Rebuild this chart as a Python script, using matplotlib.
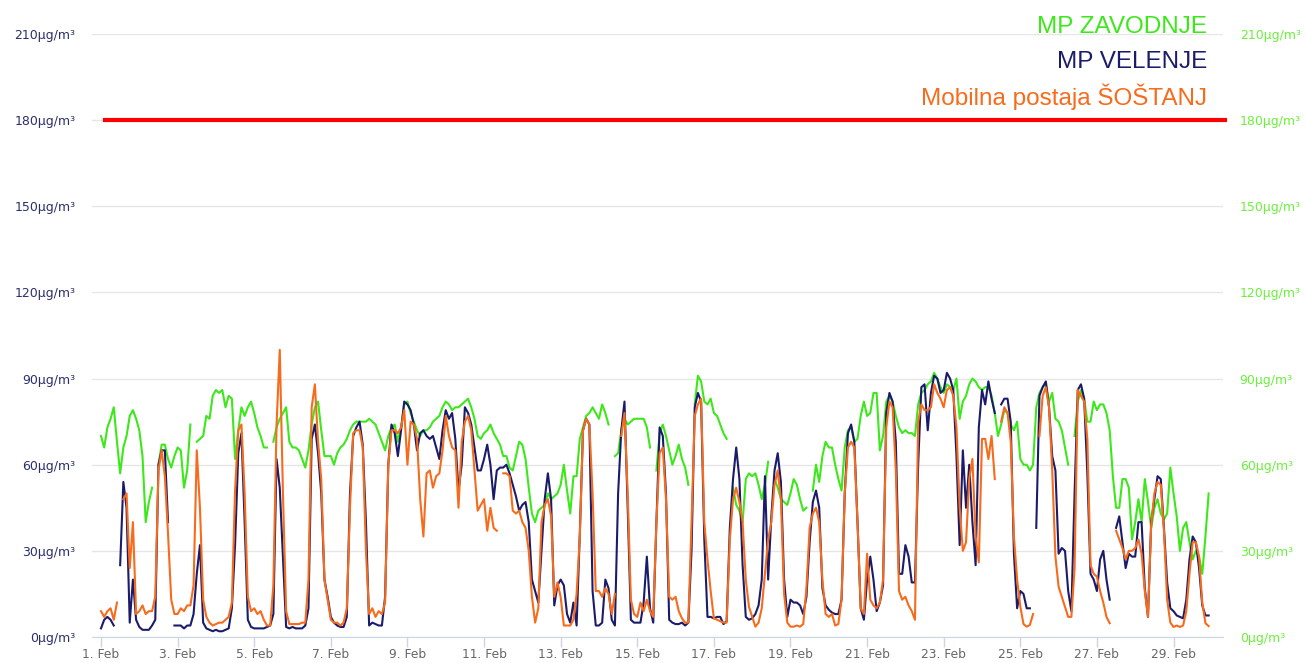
import matplotlib
matplotlib.use("Agg")
import matplotlib.pyplot as plt
from matplotlib import font_manager
import numpy as np

nan = float("nan")

# values every 2 hours, one row per day (1. Feb ... 29. Feb), µg/m³
zavodnje = [
    70, 66, 73, 76, 80, 68, 57, 66, 70, 77, 79, 76,
    72, 63, 40, 47, 52, nan, 60, 67, 67, 62, 59, 63,
    66, 65, 52, 58, 74, nan, 68, 69, 70, 77, 76, 84,
    86, 85, 86, 80, 84, 83, 62, 72, 80, 77, 80, 82,
    78, 73, 70, 66, 66, nan, 68, 73, 76, 78, 80, 68,
    66, 66, 65, 62, 59, 65, 74, 80, 82, 72, 63, 63,
    63, 60, 64, 66, 67, 69, 72, 74, 75, 75, 75, 75,
    76, 75, 74, 71, 68, 65, 70, 73, 74, 68, 73, 81,
    82, 78, 75, 72, 70, 72, 72, 73, 75, 76, 77, 80,
    82, 81, 79, 80, 80, 81, 82, 83, 80, 76, 70, 69,
    71, 72, 74, 71, 69, 67, 63, 63, 59, 58, 63, 68,
    67, 62, 52, 43, 40, 44, 45, 46, 50, 48, 49, 50,
    53, 60, 51, 43, 56, 56, 69, 73, 77, 78, 80, 78,
    76, 81, 78, 74, nan, 63, 64, 72, 76, 74, 75, 76,
    76, 76, 76, 73, 66, nan, 58, 71, 74, 70, 65, 60,
    63, 67, 62, 59, 53, nan, 81, 91, 89, 82, 81, 83,
    78, 77, 74, 71, 69, nan, 52, 46, 44, 40, 55, 57,
    56, 57, 53, 48, 53, 61, nan, 55, 52, 48, 47, 46,
    50, 55, 53, 48, 44, 45, nan, 51, 60, 54, 63, 68,
    66, 66, 60, 55, 51, 66, 72, 73, 68, 69, 77, 82,
    77, 78, 85, 85, 65, 70, 82, 84, 82, 77, 73, 71,
    72, 71, 71, 70, 81, 85, 86, 88, 89, 92, 90, 87,
    85, 88, 87, 86, 90, 76, 82, 84, 88, 90, 89, 87,
    86, 87, 87, 84, 78, 70, 74, 79, 78, 74, 72, 75,
    62, 60, 60, 58, 60, 80, 85, 87, 88, 82, 85, 76,
    75, 72, 66, 60, nan, 70, 82, 86, 83, 75, 75, 82,
    79, 81, 81, 78, 72, 56, 45, 45, 55, 55, 52, 34,
    40, 48, 40, 55, 47, 38, 45, 48, 43, 41, 43, 59,
    50, 42, 30, 38, 40, 33, 27, 30, 28, 22, 35, 50,
]

velenje = [
    3, 6, 7, 6, 4, nan, 25, 54, 45, 5, 20, 6,
    3.5, 2.5, 2.5, 2.5, 4, 6, 60, 65, 65, 40, nan, 4,
    4, 4, 3, 4, 4, 8, 22, 32, 5, 3, 2.5, 2,
    2.5, 2, 2, 2.5, 3, 10, 32, 64, 71, 40, 6, 3.5,
    3, 3, 3, 3, 3.5, 4, 8, 62, 52, 28, 3.5, 3,
    3.5, 3, 3, 3, 4, 10, 69, 74, 64, 50, 20, 14,
    7, 5, 4, 3.5, 3.5, 7, 50, 70, 73, 75, 67, 40,
    4, 5, 4.5, 4, 4, 14, 60, 74, 71, 63, 72, 82,
    81, 79, 74, 65, 71, 72, 70, 69, 70, 66, 62, 72,
    79, 76, 78, 69, 51, 60, 80, 78, 74, 66, 58, 58,
    62, 67, 60, 48, 58, 59, 59, 60, 57, 53, 49, 44,
    46, 47, 40, 20, 16, 12, 30, 48, 57, 48, 11, 18,
    20, 18, 8, 5, 12, 4, 36, 72, 76, 74, 16, 4,
    4, 5, 20, 17, 6, 4, 50, 72, 82, 45, 6, 5,
    5, 5, 12, 28, 10, 5, 40, 73, 70, 50, 6, 5,
    4.5, 4.5, 5, 4, 5, 30, 80, 85, 82, 34, 7, 7,
    6.5, 7, 7, 4.5, 5.5, 38, 55, 66, 55, 25, 7, 6,
    6.5, 8, 11, 20, 56, 20, 42, 58, 64, 54, 20, 7,
    13, 12, 12, 11, 8, 14, 33, 47, 51, 45, 17, 11,
    9.5, 8.5, 8, 8, 13, 50, 71, 74, 68, 40, 10, 6,
    20, 28, 20, 9, 12, 18, 78, 85, 82, 68, 22, 22,
    32, 28, 19, 19, 60, 87, 88, 72, 85, 91, 90, 85,
    86, 92, 90, 86, 63, 32, 65, 45, 60, 40, 25, 73,
    86, 81, 89, 83, 78, nan, 81, 83, 83, 75, 29, 10,
    16, 15, 10, 10, nan, 38, 84, 87, 89, 80, 63, 58,
    29, 31, 30, 16, 9, 50, 86, 88, 83, 57, 22, 20,
    16, 27, 30, 20, 13, nan, 38, 42, 33, 24, 29, 28,
    28, 40, 40, 17, 7, 40, 48, 56, 55, 38, 19, 10,
    9, 7.5, 7, 6.5, 13, 27, 35, 33, 24, 11, 7.5, 7.5,
]

sostanj = [
    9, 7, 9, 10, 6, 12, nan, 48, 50, 24, 40, 8,
    9, 11, 8, 9, 9, 14, 58, 65, 56, 36, 13, 8,
    8, 10, 9, 11, 11, 18, 65, 45, 13, 7, 5, 4,
    4.5, 5, 5, 6, 7, 12, 51, 72, 74, 50, 14, 9,
    10, 8, 9, 6, 4, 4, 18, 74, 100, 50, 9, 4.5,
    4.5, 4.5, 4.5, 5, 5, 20, 80, 88, 68, 55, 20, 13,
    6, 5, 5, 4, 5, 10, 45, 71, 72, 72, 66, 30,
    8, 10, 7, 9, 8, 12, 60, 72, 72, 71, 73, 79,
    60, 75, 74, 69, 48, 35, 57, 58, 52, 56, 57, 65,
    77, 70, 66, 65, 45, 68, 75, 77, 72, 58, 44, 46,
    48, 37, 45, 38, 37, nan, 57, 57, 56, 44, 43, 44,
    40, 38, 30, 14, 5, 10, 40, 46, 48, 42, 14, 19,
    14, 4, 4, 4, 6, 15, 35, 72, 76, 74, 50, 16,
    16, 14, 17, 15, 8, 15, nan, 70, 78, 50, 13, 8,
    7, 12, 9, 13, 9, 7, 40, 64, 66, 48, 14, 13,
    14, 9, 6.5, 5, 5, 40, 77, 81, 83, 40, 27, 16,
    6.5, 6, 5.5, 5, 5, 34, 48, 52, 47, 40, 20, 10.5,
    7, 3.6, 5, 10, 22, 34, 40, 53, 58, 48, 15, 5,
    3.6, 3.6, 4, 3.6, 4.5, 17, 38, 43, 45, 40, 20, 8,
    7, 8, 4, 4.5, 13, 50, 66, 68, 66, 40, 10, 8,
    29, 13, 11, 10, 12, 20, 73, 82, 80, 58, 16, 13,
    14, 11, 9, 6, 75, 81, 79, 79, 80, 88, 85, 83,
    80, 86, 87, 84, 73, 45, 30, 33, 55, 62, 35, 26,
    69, 69, 62, 70, 55, nan, 75, 80, 78, 68, 35, 20,
    10.6, 4.5, 3.6, 4.2, 8, nan, 70, 84, 87, 80, 58, 28,
    17.5, 14, 10.6, 7, 7, 24, 86, 84, 82, 69, 25, 22,
    21, 16, 12, 7, 4.8, nan, 37, 34, 31, 27, 30, 30,
    31, 34, 29, 16, 7, 39, 50, 54, 53, 37, 13, 5,
    3.5, 4, 3.5, 4, 9, 22, 33, 33, 28, 12, 4.8, 3.8,
]

series_names = ["MP ZAVODNJE", "MP VELENJE", "Mobilna postaja ŠOŠTANJ"]
series_colors = ["#3ce81a", "#1b1b6b", "#f76b1c"]
limit_value = 180
y_ticks = [0, 30, 60, 90, 120, 150, 180, 210]
tick_days = [1, 3, 5, 7, 9, 11, 13, 15, 17, 19, 21, 23, 25, 27, 29]

hours = np.arange(len(zavodnje)) * 2  # sample time, hours from 1. Feb 00:00

available = {f.name for f in font_manager.fontManager.ttflist}
if "Liberation Sans Narrow" in available:
    legend_font, legend_size = "Liberation Sans Narrow", 20
else:
    legend_font, legend_size = "Liberation Sans", 17.5

fig = plt.figure(figsize=(13.06, 6.63), dpi=100)
ax = fig.add_axes([92 / 1306, 1 - 637 / 663, 1131 / 1306, 603 / 663])

for vals, col in zip([zavodnje, velenje, sostanj], series_colors):
    ax.plot(hours, vals, color=col, lw=1.5, solid_joinstyle="round", zorder=3)

ax.axhline(limit_value, xmin=13 / 1131, xmax=1133 / 1131, color="#ff0000",
           lw=3, clip_on=False, zorder=4)

ax.set_xlim(-5.64, 703)
ax.set_ylim(0, 210)
ax.set_yticks(y_ticks)
ax.set_yticklabels([f"{v}µg/m³" for v in y_ticks])
ax.grid(axis="y", color="#e6e6e6", lw=1)
ax.set_axisbelow(True)
ax.tick_params(axis="y", length=0, pad=12, labelsize=9, labelcolor="#2b2f6b")

ax.set_xticks([(d - 1) * 24 for d in tick_days])
ax.set_xticklabels([f"{d}. Feb" for d in tick_days])
ax.tick_params(axis="x", direction="out", length=7, width=1, color="#ccd6eb",
               labelcolor="#666666", labelsize=8.8, pad=1)

for s in ["top", "left", "right"]:
    ax.spines[s].set_visible(False)
ax.spines["bottom"].set_color("#ccd6eb")

ax2 = ax.twinx()
ax2.set_ylim(0, 210)
ax2.set_yticks(y_ticks)
ax2.set_yticklabels([f"{v}µg/m³" for v in y_ticks])
ax2.tick_params(axis="y", length=0, pad=12, labelsize=9, labelcolor="#6cf03c")
for s in ax2.spines.values():
    s.set_visible(False)

legend_y = [33, 68, 105]
for name, col, yb in zip(series_names, series_colors, legend_y):
    fig.text(1207 / 1306, 1 - yb / 663, name, color=col, ha="right",
             va="baseline", fontsize=legend_size, family=legend_font)

fig.savefig("out.png", dpi=100)
